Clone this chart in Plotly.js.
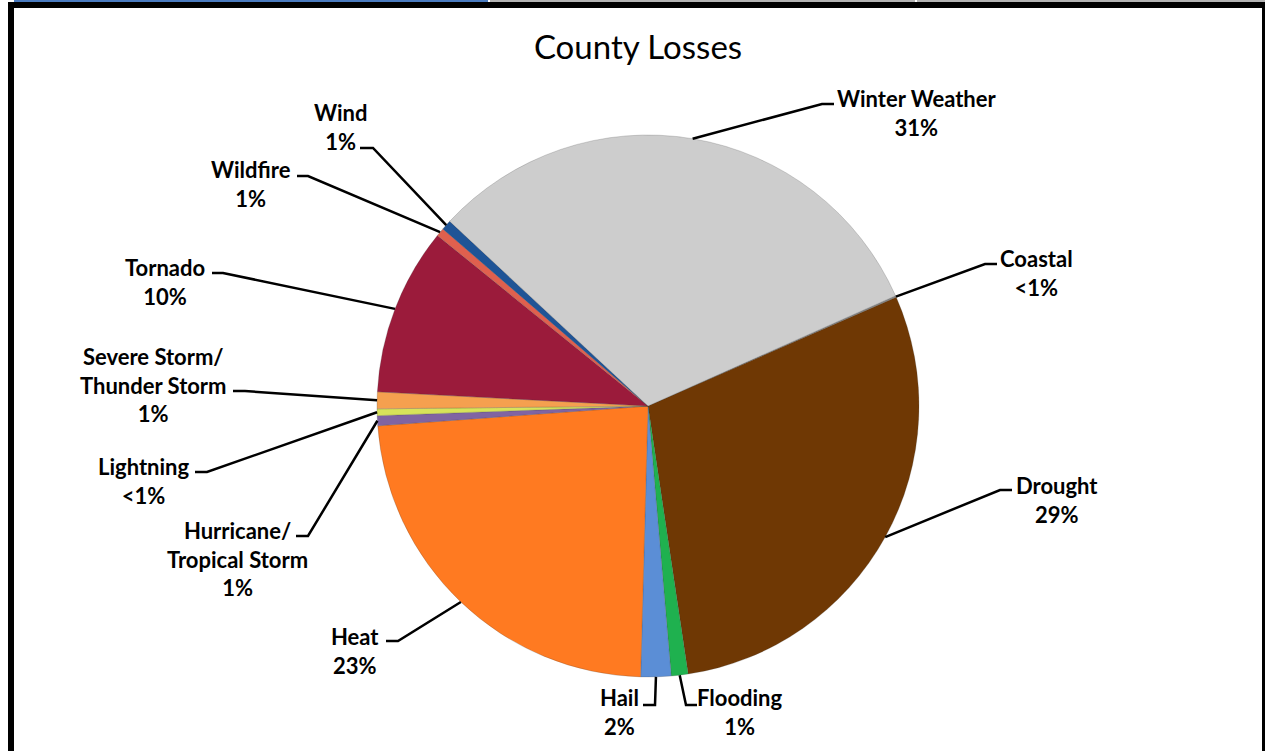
<!DOCTYPE html>
<html>
<head>
<meta charset="utf-8">
<script src="https://cdn.plot.ly/plotly-3.0.1.min.js"></script>
<style>html,body{margin:0;padding:0;background:#fff;}#chart{width:1265px;height:751px;}</style>
</head>
<body>
<div id="chart"></div>
<script>
// ---- data ----
var categories = ['Coastal', 'Drought', 'Flooding', 'Hail', 'Heat', 'Hurricane/ Tropical Storm',
  'Lightning', 'Severe Storm/ Thunder Storm', 'Tornado', 'Wildfire', 'Wind', 'Winter Weather'];
var lossShare = [0.1, 29.2, 1.0, 1.8, 23.4, 0.6, 0.4, 1.0, 10.0, 0.5, 0.6, 31.4];
var sliceColors = ['#8c8c8c', '#6f3804', '#1fb14f', '#5b8ed6', '#ff7a21', '#8064a2',
  '#d7e35a', '#f5a04f', '#9b1b3b', '#e0604e', '#1f5496', '#cdcdcd'];

// ---- layout geometry (pixels) ----
var W = 1265, H = 751;
var CX = 648, CY = 406, R = 271;
var ROT = 66;
// label block centres, and leader elbow/end points
var labelPos = [
  {tx:1036, ty:273, ex:985, ey:264, hx:997},
  {tx:1057, ty:500, ex:1000, ey:490, hx:1012},
  {tx:740, ty:712, ex:686, ey:705, hx:697},
  {tx:619, ty:712, ex:655, ey:705, hx:643},
  {tx:355, ty:651, ex:398, ey:641, hx:386},
  {tx:237, ty:559, ex:308, ey:536, hx:296},
  {tx:143, ty:481, ex:207, ey:472, hx:195},
  {tx:153, ty:385, ex:245, ey:391, hx:233},
  {tx:165, ty:282, ex:223, ey:273, hx:212},
  {tx:251, ty:184, ex:308, ey:176, hx:297},
  {tx:341, ty:127, ex:373, ey:148, hx:360},
  {tx:917, ty:113, ex:822, ey:104, hx:834}
];

function px(x){ return x / W; }
function py(y){ return 1 - y / H; }

var total = lossShare.reduce(function(a,b){return a+b;}, 0);
function pctText(v){ var p = v / total * 100; return p < 0.5 ? '&lt;1%' : Math.round(p) + '%'; }

var annotations = [];
var shapes = [];
var cum = 0;
for (var i = 0; i < categories.length; i++) {
  var mid = (ROT + (cum + lossShare[i] / 2) / total * 360) * Math.PI / 180;
  cum += lossShare[i];
  var ax = CX + R * Math.sin(mid), ay = CY - R * Math.cos(mid);
  var L = labelPos[i];
  shapes.push({
    type: 'path', xref: 'paper', yref: 'paper',
    path: 'M' + px(ax) + ',' + py(ay) + ' L' + px(L.ex) + ',' + py(L.ey) + ' L' + px(L.hx) + ',' + py(L.ey),
    line: {color: '#000', width: 2.5}
  });
  annotations.push({
    xref: 'paper', yref: 'paper', x: px(L.tx), y: py(L.ty),
    xanchor: 'center', yanchor: 'middle', showarrow: false, align: 'center',
    text: '<b>' + categories[i].replace('/ ', '/<br>') + '<br>' + pctText(lossShare[i]) + '</b>',
    font: {family: 'Lato, "Open Sans", sans-serif', size: 22, color: '#000'}
  });
}

// frame and header strips
shapes.push({type:'rect', xref:'paper', yref:'paper', x0:px(14), x1:px(488), y0:py(2), y1:py(0), fillcolor:'#4a7bbf', line:{width:0}, layer:'below'});
shapes.push({type:'rect', xref:'paper', yref:'paper', x0:px(490), x1:px(915), y0:py(2), y1:py(0), fillcolor:'#b3b3b3', line:{width:0}, layer:'below'});
shapes.push({type:'rect', xref:'paper', yref:'paper', x0:px(917), x1:px(1265), y0:py(2), y1:py(0), fillcolor:'#b3b3b3', line:{width:0}, layer:'below'});
shapes.push({type:'rect', xref:'paper', yref:'paper', x0:px(8), x1:px(1265), y0:py(8), y1:py(2), fillcolor:'#000', line:{width:0}, layer:'below'});
shapes.push({type:'rect', xref:'paper', yref:'paper', x0:px(8), x1:px(14), y0:py(751), y1:py(2), fillcolor:'#000', line:{width:0}, layer:'below'});
shapes.push({type:'rect', xref:'paper', yref:'paper', x0:px(1262), x1:px(1265), y0:py(751), y1:py(2), fillcolor:'#000', line:{width:0}, layer:'below'});

var trace = {
  type: 'pie',
  labels: categories,
  values: lossShare,
  sort: false,
  direction: 'clockwise',
  rotation: ROT,
  textinfo: 'none',
  hoverinfo: 'label+percent',
  marker: {colors: sliceColors, line: {color: 'rgba(60,60,60,0.35)', width: 0.6}},
  domain: {x: [px(CX - R), px(CX + R)], y: [py(CY + R), py(CY - R)]},
  showlegend: false
};

var layout = {
  width: W, height: H,
  margin: {l:0, r:0, t:0, b:0},
  paper_bgcolor: '#fff',
  showlegend: false,
  title: {text: 'County Losses', x: px(638), xref: 'paper', xanchor: 'center', y: py(47), yref: 'paper', yanchor: 'middle',
    font: {family: 'Lato, "Open Sans", sans-serif', size: 33, color: '#000'}},
  shapes: shapes,
  annotations: annotations
};

Plotly.newPlot('chart', [trace], layout, {displayModeBar: false, staticPlot: true});
</script>
</body>
</html>
